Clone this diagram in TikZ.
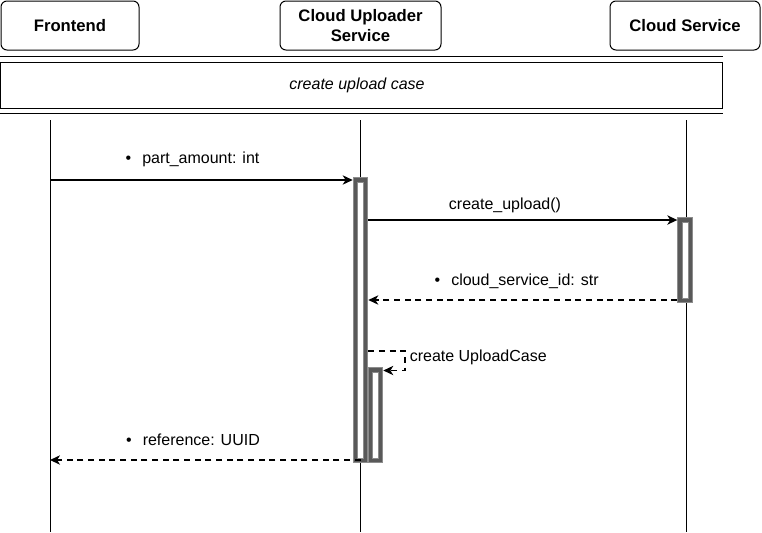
\documentclass[tikz,border=0pt]{standalone}
\usepackage{fontspec}
\setmainfont{Liberation Sans}
\usetikzlibrary{arrows.meta}
\definecolor{barfill}{HTML}{595959}
\definecolor{baredge}{HTML}{8C8C8C}
\begin{document}
\begin{tikzpicture}[x=0.75pt,y=-0.75pt,
  head/.style={draw=black, line width=0.75pt, rounded corners=4.5pt, fill=white,
    inner sep=0pt, align=center, font=\bfseries\fontsize{12.5}{15}\selectfont},
  framebox/.style={draw=black, line width=0.75pt, inner sep=0pt,
    font=\itshape\fontsize{12}{14}\selectfont},
  life/.style={draw=black, line width=0.75pt},
  bar/.style={draw=baredge, double=barfill, line width=0.75pt, double distance=2.7pt,
    fill=white, inner sep=0pt, outer sep=2pt, minimum width=7.7pt},
  lbl/.style={inner sep=0pt, font=\fontsize{12}{14}\selectfont},
  tipa/.style={-{Stealth[length=7.5pt,width=7pt,inset=2.2pt]}},
  msg/.style={draw=black, line width=1pt, tipa},
  ret/.style={draw=black, line width=1pt, dash pattern=on 4.5pt off 3.5pt, tipa}
]
\useasboundingbox (0,0) rectangle (762,532);
\fill[white] (0,0) rectangle (762,532);

% header boxes
\node[head, minimum width=103.5pt, minimum height=36.75pt] (fe) at (70,25.5) {Frontend};
\node[head, minimum width=120.75pt, minimum height=36.75pt] (cus) at (360.5,25.5) {Cloud Uploader\\Service};
\node[head, minimum width=112.5pt, minimum height=36.75pt] (cs) at (685,25.5) {Cloud Service};

% frame
\node[framebox, minimum width=541.5pt, minimum height=34.7pt] (frame) at (361,85.2) {\hspace*{-6pt}create upload case};
\draw[line width=0.75pt] ([yshift=3.5pt]frame.north west) -- ([yshift=3.5pt]frame.north east);
\draw[line width=0.75pt] ([yshift=-3.3pt]frame.south west) -- ([yshift=-3.3pt]frame.south east);

% lifelines
\coordinate (l1t) at (50,120);   \coordinate (l1b) at (50,532);
\coordinate (l2t) at (360.7,120); \coordinate (l2b) at (360.7,532);
\coordinate (l3t) at (686,120);  \coordinate (l3b) at (686,532);
\draw[life] (l1t) -- (l1b);
\draw[life] (l2t) -- (l2b);
\draw[life] (l3t) -- (l3b);

% activation bars
\node[bar, minimum height=210.3pt] (b1) at (360.5,320.2) {};
\node[bar, minimum height=67.8pt] (b2) at (375.5,415.2) {};
\node[bar, minimum width=8pt, minimum height=60.5pt] (b3) at (685.3,260.3) {};

% message rows
\coordinate (y180) at (50,180);
\coordinate (y220) at (0,220);
\coordinate (y300) at (0,300);
\coordinate (y351) at (0,351);
\coordinate (s1) at (405,351);
\coordinate (s2) at (405,370.5);
\coordinate (y370) at (0,370.5);
\coordinate (r5) at (360.7,460);
\coordinate (y460) at (50,460);

\draw[msg] (y180) -- (y180 -| b1.west);
\draw[msg] (b1.east |- y220) -- (b3.west |- y220);
\draw[ret] (b3.west |- y300) -- (b1.east |- y300);
\draw[ret] (b1.east |- y351) -- (s1) -- (s2) -- (b2.east |- y370);
\draw[ret] (r5) -- (y460);

% labels
\node[lbl, anchor=west] (t1) at (142,159) {\llap{•\hspace{8.3pt}}part\_amount: int};
\node[lbl] (t2) at (505,205) {create\_upload()};
\node[lbl, anchor=west] (t3) at (451,281) {\llap{•\hspace{8.3pt}}cloud\_service\_id: str};
\node[lbl, anchor=west] (t4) at (409.5,357) {create UploadCase};
\node[lbl, anchor=west] (t5) at (142.5,440) {\llap{•\hspace{8.3pt}}reference: UUID};
\end{tikzpicture}
\end{document}
